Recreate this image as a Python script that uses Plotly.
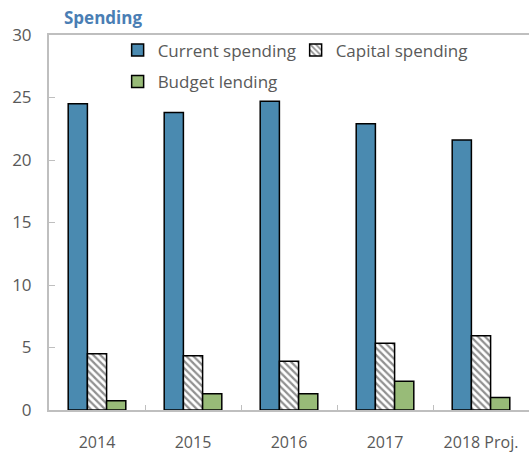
import plotly.graph_objects as go

years = ["2014", "2015", "2016", "2017", "2018 Proj."]
current_spending = [24.5, 23.8, 24.7, 22.9, 21.6]
capital_spending = [4.5, 4.35, 3.9, 5.35, 5.95]
budget_lending = [0.75, 1.3, 1.3, 2.3, 1.0]

FONT = "Open Sans"
GRAY = "#595959"

fig = go.Figure()
fig.add_trace(go.Bar(
    name="Current spending", x=years, y=current_spending, legend="legend",
    marker=dict(color="#4a8ab0", line=dict(color="black", width=1.5)),
))
fig.add_trace(go.Bar(
    name="Capital spending", x=years, y=capital_spending, legend="legend",
    marker=dict(color="white", line=dict(color="black", width=1.5),
                pattern=dict(shape="\\", fgcolor="#222222", bgcolor="white",
                             size=5, solidity=0.45)),
))
fig.add_trace(go.Bar(
    name="Budget lending", x=years, y=budget_lending, legend="legend2",
    marker=dict(color="#98bb78", line=dict(color="black", width=1.5)),
))

legend_style = dict(
    orientation="h", xanchor="left", yanchor="top",
    font=dict(family=FONT, size=17, color=GRAY),
    bgcolor="rgba(0,0,0,0)", itemwidth=30,
    entrywidth=133, entrywidthmode="pixels",
)

fig.update_layout(
    width=529, height=456,
    margin=dict(l=49, r=0, t=35, b=46),
    paper_bgcolor="white", plot_bgcolor="white",
    barmode="group", bargap=0.4, bargroupgap=0,
    font=dict(family=FONT, size=17, color=GRAY),
    showlegend=True,
    legend=dict(x=0.143, y=1.007, **legend_style),
    legend2=dict(x=0.143, y=0.923, **legend_style),
    annotations=[dict(
        text="<b>Spending</b>", xref="paper", yref="paper",
        x=0.027, y=1.0, xanchor="left", yanchor="bottom", yshift=4,
        showarrow=False, font=dict(family=FONT, size=17, color="#4a7eb4"),
    )],
)
fig.update_xaxes(
    type="category", showline=True, linecolor="#bfbfbf", linewidth=2,
    mirror=True, ticks="inside", tickson="boundaries", ticklen=5,
    tickcolor="#bfbfbf", showgrid=False,
    tickfont=dict(family=FONT, size=16, color=GRAY), ticklabelstandoff=17,
)
fig.update_yaxes(
    range=[0, 30], dtick=5, showline=True, linecolor="#bfbfbf", linewidth=2,
    ticks="inside", ticklen=6, tickcolor="#bfbfbf", showgrid=False,
    zeroline=False, tickfont=dict(family=FONT, size=17, color=GRAY),
    ticklabelstandoff=12,
)

fig.write_html("out.html")
